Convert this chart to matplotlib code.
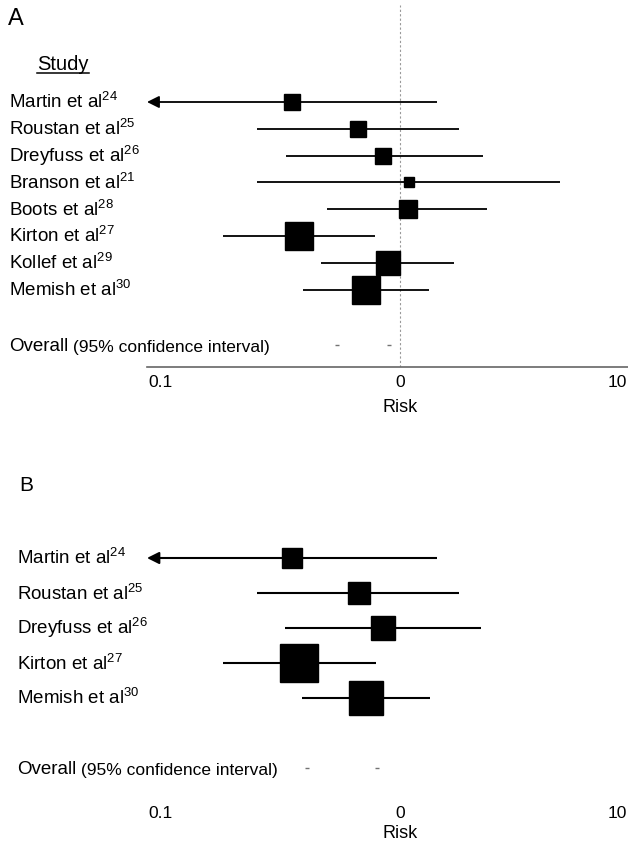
import numpy as np
import matplotlib
matplotlib.use("Agg")
import matplotlib.pyplot as plt
from matplotlib import transforms
from matplotlib.lines import Line2D

plt.rcParams['font.family'] = ['Liberation Sans', 'DejaVu Sans']
plt.rcParams['mathtext.fontset'] = 'custom'
plt.rcParams['mathtext.rm'] = 'Liberation Sans'

# ---- data, panel A (all studies) ----
studies_a = ['Martin et al', 'Roustan et al', 'Dreyfuss et al', 'Branson et al',
             'Boots et al', 'Kirton et al', 'Kollef et al', 'Memish et al']
refs_a = [24, 25, 26, 21, 28, 27, 29, 30]
risk_a = [0.334, 0.653, 0.842, 1.10, 1.08, 0.359, 0.885, 0.708]
lower_a = [0.05, 0.234, 0.315, 0.234, 0.477, 0.166, 0.449, 0.374]
upper_a = [1.46, 1.82, 2.32, 5.07, 2.42, 0.776, 1.73, 1.34]
weight_a = [8.8, 7.8, 7.8, 3.1, 9.9, 24.0, 16.2, 22.3]
overall_a = [0.528, 0.895]

# ---- data, panel B (subset) ----
studies_b = ['Martin et al', 'Roustan et al', 'Dreyfuss et al', 'Kirton et al', 'Memish et al']
refs_b = [24, 25, 26, 27, 30]
risk_b = [0.334, 0.66, 0.842, 0.359, 0.708]
lower_b = [0.05, 0.234, 0.311, 0.166, 0.370]
upper_b = [1.46, 1.82, 2.27, 0.784, 1.36]
weight_b = [11.1, 12.2, 14.5, 34.6, 27.5]
overall_b = [0.389, 0.79]

tick_vals = [0.1, 1, 10]
tick_labels = ['0.1', '0', '10']

W, H = 628, 848
fig = plt.figure(figsize=(W / 100, H / 100), dpi=100)


def px_box(left, top, right, bottom):
    return [left / W, 1 - bottom / H, (right - left) / W, (bottom - top) / H]


# x mapping: 1 sits at 400 px, one decade = 227 px
XMIN = 10 ** ((147 - 400) / 227)
XMAX = 10 ** ((628 - 400) / 227)


def draw_panel(ax, names, refs, risk, lower, upper, weight, overall,
               ylim, overall_row, label_x, fs, k, lw, risk_y, pad, show_axis):
    ax.set_xscale('log')
    ax.set_xlim(XMIN, XMAX)
    ax.set_ylim(*ylim)
    ax.set_yticks([])
    ax.set_xticks(tick_vals)
    ax.set_xticklabels(tick_labels)
    ax.xaxis.set_minor_locator(matplotlib.ticker.NullLocator())
    ax.tick_params(axis='x', length=0, pad=pad, labelsize=12.5)
    lbls = ax.get_xticklabels()
    lbls[0].set_ha('right')
    lbls[2].set_ha('right')
    for s in ['top', 'left', 'right']:
        ax.spines[s].set_visible(False)
    if show_axis:
        ax.spines['bottom'].set_color('0.4')
        ax.spines['bottom'].set_linewidth(1.2)
        ax.spines['bottom'].set_linestyle((0, (4, 1)))
        ax.axvline(1, color='0.6', lw=0.8, ls=(0, (2, 2)), zorder=1)
    else:
        ax.spines['bottom'].set_visible(False)
    ax.patch.set_visible(False)

    trans = transforms.blended_transform_factory(fig.transFigure, ax.transData)
    trans = transforms.offset_copy(trans, fig=fig, y=-6.5, units='dots')
    for i, (name, ref) in enumerate(zip(names, refs)):
        ax.text(label_x, i, name + r'$^{\mathregular{%d}}$' % ref, transform=trans,
                ha='left', va='baseline', fontsize=fs)
        if lower[i] < XMIN:
            # CI runs off the scale: arrow to the left edge
            ax.annotate('', xy=(XMIN, i), xytext=(risk[i], i),
                        arrowprops=dict(arrowstyle='-|>', color='k', lw=lw,
                                        mutation_scale=18, shrinkA=0, shrinkB=0))
            ax.hlines(i, risk[i], upper[i], color='k', lw=lw)
        else:
            ax.hlines(i, lower[i], upper[i], color='k', lw=lw)
        ax.plot(risk[i], i, 's', color='k', mec='k',
                ms=k * np.sqrt(weight[i]) * 0.72, zorder=3)

    # overall estimate: only faint specks survive in the print
    ax.plot(overall, [overall_row] * len(overall), '_', color='0.45', ms=3, mew=1)

    t1 = ax.text(label_x, overall_row, 'Overall', transform=trans,
                 ha='left', va='baseline', fontsize=fs)
    ax.annotate(' (95% confidence interval)', xy=(1, 0), xycoords=t1,
                ha='left', va='bottom', fontsize=fs - 1)

    rtrans = transforms.blended_transform_factory(ax.transData, fig.transFigure)
    ax.text(1, risk_y, 'Risk', transform=rtrans, ha='center', va='center', fontsize=13)


ax_a = fig.add_axes(px_box(147, 5, 628, 367))
draw_panel(ax_a, studies_a, refs_a, risk_a, lower_a, upper_a, weight_a, overall_a,
           ylim=((367 - 102) / 26.8, (5 - 102) / 26.8), overall_row=(345 - 102) / 26.8,
           label_x=9 / W, fs=13.5, k=5.73, lw=1.3, risk_y=1 - 408 / H, pad=5.5,
           show_axis=True)

ax_b = fig.add_axes(px_box(147, 520, 628, 800))
draw_panel(ax_b, studies_b, refs_b, risk_b, lower_b, upper_b, weight_b, overall_b,
           ylim=((800 - 558) / 35, (520 - 558) / 35), overall_row=6,
           label_x=17 / W, fs=13.5, k=6.3, lw=1.5, risk_y=1 - 833 / H, pad=4.5,
           show_axis=False)

# panel letters and header
fig.text(8 / W, 1 - 19 / H, 'A', fontsize=17, ha='left', va='center')
fig.text(19 / W, 1 - 486 / H, 'B', fontsize=15, ha='left', va='center')
study = fig.text(37 / W, 1 - 65 / H, 'Study', fontsize=14.5, ha='left', va='center')
fig.canvas.draw()
bb = study.get_window_extent()
fig.add_artist(Line2D([bb.x0 / W, bb.x1 / W], [(bb.y0 + 2) / H, (bb.y0 + 2) / H],
                      color='k', lw=1.1, transform=fig.transFigure))

fig.savefig('out.png', dpi=100)
